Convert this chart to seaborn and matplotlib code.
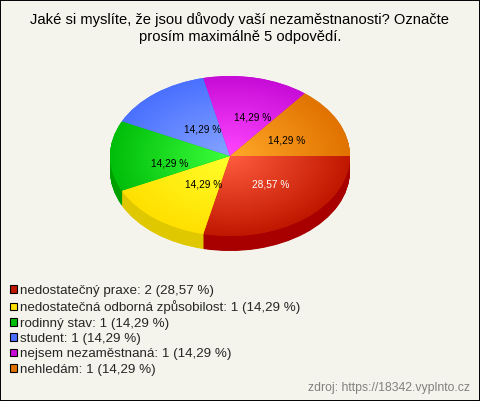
import numpy as np
import matplotlib
matplotlib.use("Agg")
import matplotlib.pyplot as plt
from matplotlib.colors import LinearSegmentedColormap
from matplotlib.patches import Patch, Rectangle
import seaborn as sns

title = "Jaké si myslíte, že jsou důvody vaší nezaměstnanosti? Označte\nprosím maximálně 5 odpovědí."
categories = ["nedostatečný praxe", "nedostatečná odborná způsobilost", "rodinný stav",
              "student", "nejsem nezaměstnaná", "nehledám"]
counts = [2, 1, 1, 1, 1, 1]
percents = ["28,57 %", "14,29 %", "14,29 %", "14,29 %", "14,29 %", "14,29 %"]
source = "zdroj: https://18342.vyplnto.cz"

# colours: legend / rim, brightest at the hub, side of the disc
rim_colors = ["#C01800", "#FFE000", "#00BE0A", "#4A70FF", "#C80CD8", "#E17300"]
hub_colors = ["#FF5C3E", "#FFFF2A", "#3CFF3C", "#86A4FF", "#FF46FF", "#FFA828"]
side_colors = ["#A80000", "#E0C800", "#00A000", "#3050C0", "#900098", "#A85000"]
label_colors = ["white", "black", "black", "black", "black", "black"]
# nudges so the labels land where the original has them, in radius units
label_nudge = [(0.03, 0.03), (0.09, 0.03), (0.0, -0.09), (0.08, -0.065), (0.08, -0.012), (0.02, -0.017)]

bg = "#F5F4EC"
W, H = 480, 401
CX, CY, RX, RY, DEPTH = 230, 156, 120, 80, 15

sns.set_style("white")
plt.rcParams["font.family"] = ["Liberation Sans", "DejaVu Sans"]

fig = plt.figure(figsize=(W / 100, H / 100), dpi=100, facecolor=bg)
ax = fig.add_axes([0, 0, 1, 1])

# side of the disc, stacked from the bottom up
for off in np.linspace(DEPTH / RY, 0.01, 30):
    ax.pie(counts, colors=sns.color_palette(side_colors), startangle=0, counterclock=False,
           center=(0, -off), wedgeprops={"linewidth": 0})

wedges, _, autotexts = ax.pie(counts, colors=sns.color_palette(rim_colors), startangle=0,
                              counterclock=False, autopct=lambda p: "", pctdistance=0.5,
                              wedgeprops={"linewidth": 0})

# radial shading in each slice
xx, yy = np.meshgrid(np.linspace(-1, 1, 300), np.linspace(-1, 1, 300))
dist = np.clip(np.hypot(xx, yy), 0, 1)
for w, hub, rim in zip(wedges, hub_colors, rim_colors):
    cmap = LinearSegmentedColormap.from_list("s", [hub, rim])
    im = ax.imshow(dist, cmap=cmap, extent=(-1, 1, -1, 1), origin="lower", aspect="auto",
                   interpolation="bilinear", zorder=w.get_zorder() + 0.5)
    im.set_clip_path(w)

for t, txt, col, (dx, dy) in zip(autotexts, percents, label_colors, label_nudge):
    x, y = t.get_position()
    t.set_position((x + dx, y + dy))
    t.set_text(txt)
    t.set_color(col)
    t.set_fontsize(7.3)
    t.set_zorder(10)

ax.set_aspect("auto")
ax.set_xlim(-CX / RX, (W - CX) / RX)
ax.set_ylim((CY - H) / RY, CY / RY)
ax.axis("off")

fig.text(240 / W, 1 - 28 / H, title, ha="center", va="center", fontsize=10.6,
         linespacing=1.2, color="black")

handles = [Patch(facecolor=c, edgecolor="black", linewidth=0.8) for c in rim_colors]
labels = [f"{c}: {n} ({p})" for c, n, p in zip(categories, counts, percents)]
fig.legend(handles, labels, loc="upper left", bbox_to_anchor=(10 / W, 1 - 285 / H), frameon=False,
           fontsize=9.6, handlelength=0.52, handleheight=0.52, handletextpad=0.25,
           labelspacing=0.25, borderpad=0, borderaxespad=0)

fig.text(470 / W, 1 - 388 / H, source, ha="right", va="center", fontsize=8.8, color="#808080")

fig.add_artist(Rectangle((0, 0), 1, 1, transform=fig.transFigure, fill=False,
                         edgecolor="black", linewidth=1.4))

fig.savefig("out.png", dpi=100, facecolor=bg)
